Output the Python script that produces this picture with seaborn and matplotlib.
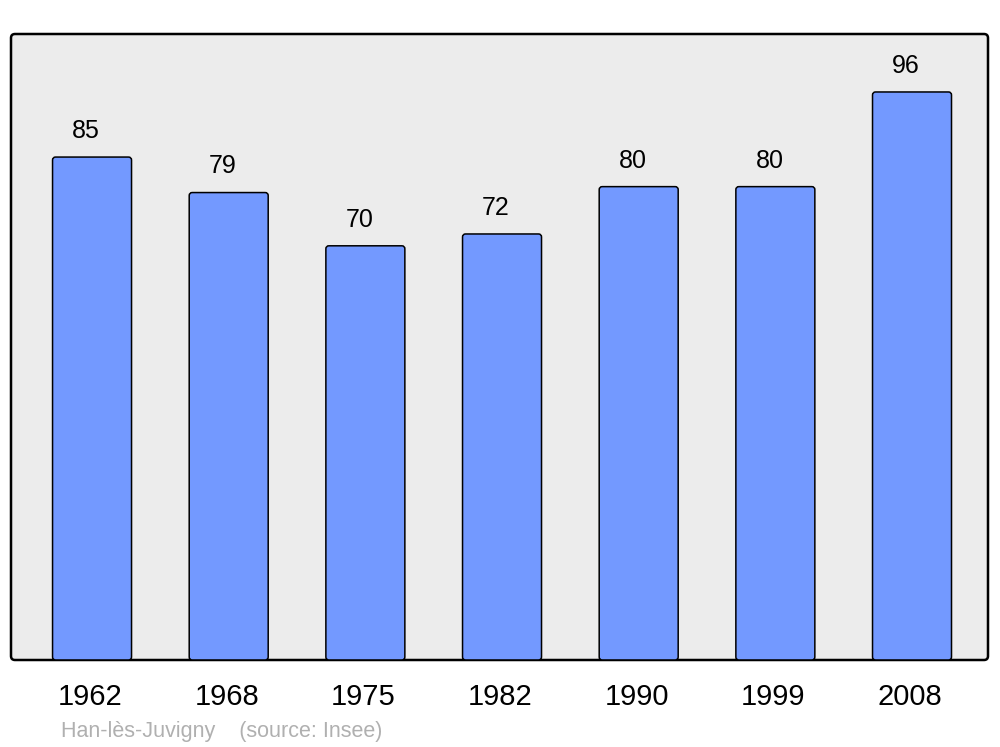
import matplotlib
matplotlib.use('Agg')
import matplotlib.pyplot as plt
import matplotlib.transforms as mtransforms
import seaborn as sns
import pandas as pd
from matplotlib.patches import FancyBboxPatch

# Data
years = ['1962', '1968', '1975', '1982', '1990', '1999', '2008']
population = [85, 79, 70, 72, 80, 80, 96]
footer = 'Han-lès-Juvigny    (source: Insee)'

sns.set_style('white')
plt.rcParams['font.family'] = ['Liberation Sans', 'DejaVu Sans']

df = pd.DataFrame({'year': years, 'pop': population})

fig = plt.figure(figsize=(10, 7.47), dpi=100)
ax = fig.add_axes([0.011, 0.1165, 0.977, 0.838])
ax.set_facecolor('none')
ax.set_zorder(2)

# Rounded background frame (display pixels)
frame = FancyBboxPatch((11, 747 - 660), 977, 626, boxstyle='round,pad=0,rounding_size=4',
                       transform=None, facecolor='#ececec', edgecolor='black',
                       linewidth=1.8, zorder=0)
fig.patches.append(frame)

sns.barplot(data=df, x='year', y='pop', ax=ax, color='#7399ff', saturation=1,
            width=0.578, edgecolor='black', linewidth=1.1)

ax.set_xlim(-0.593, 6.556)
ax.set_ylim(0, 105.8)

# swap the plain rectangles for rounded ones
for p in list(ax.patches):
    x, y = p.get_x(), p.get_y()
    w, h = p.get_width(), p.get_height()
    rb = FancyBboxPatch((x, y), w, h, boxstyle='round,pad=0,rounding_size=0.022',
                        mutation_aspect=23, facecolor='#7399ff', edgecolor='black',
                        linewidth=1.1, zorder=2)
    ax.add_patch(rb)
    p.set_visible(False)

for i, v in enumerate(population):
    ax.annotate(str(v), (i, v), textcoords='offset points', xytext=(-4.3, 18.8),
                ha='center', va='center', fontsize=18, color='black')

for s in ax.spines.values():
    s.set_visible(False)
ax.set_xlabel('')
ax.set_ylabel('')
ax.set_yticks([])
ax.tick_params(axis='x', length=0, pad=16.5, labelsize=21, labelcolor='black')
shift = mtransforms.ScaledTranslation(-0.02, 0, fig.dpi_scale_trans)
for lab in ax.get_xticklabels():
    lab.set_transform(lab.get_transform() + shift)

fig.text(0.061, 1 - 731 / 747, footer, ha='left', va='center', fontsize=15.5, color='#b0b0b0')

fig.savefig('out.png', dpi=100)
